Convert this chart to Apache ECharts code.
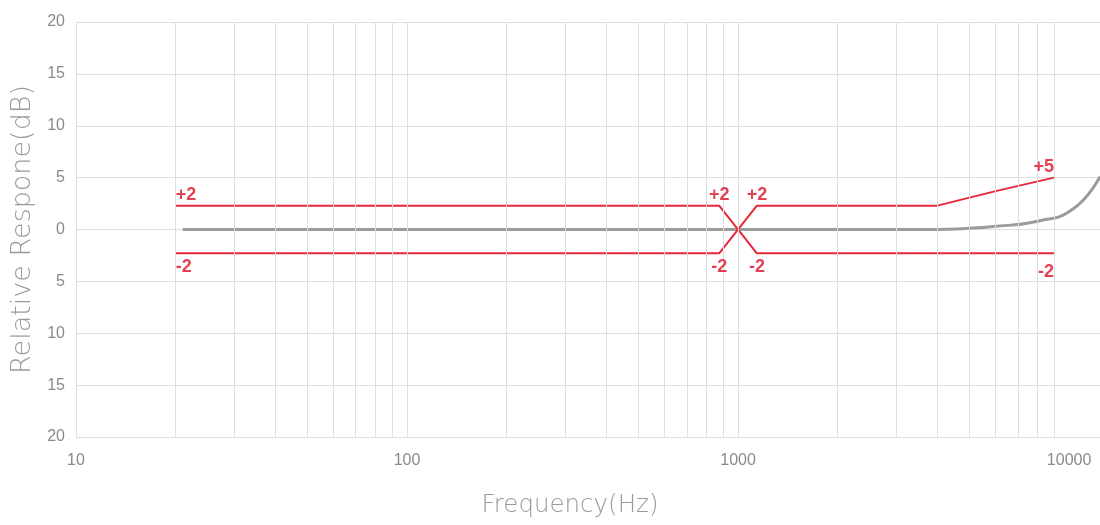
<!DOCTYPE html>
<html><head><meta charset="utf-8">
<script src="https://cdn.jsdelivr.net/npm/echarts@6/dist/echarts.min.js"></script>
<style>html,body{margin:0;padding:0;background:#fff}#c{width:1100px;height:525px}</style>
</head><body><div id="c"></div>
<script>
// ---- data ----
const xTickLabels = [10, 100, 1000, 10000];
const gridFreqs = [10, 20, 30, 40, 50, 60, 70, 80, 90,
                   100, 200, 300, 400, 500, 600, 700, 800, 900,
                   1000, 2000, 3000, 4000, 5000, 6000, 7000, 8000, 9000];
const responseFreq = [21, 100, 1000, 4000, 5900, 8050, 10300, 12400];
const responseDb   = [0, 0, 0, 0, 0.3, 0.8, 2.0, 5.1];
const tolAFreq = [20, 877, 1140, 9000];
const tolADb   = [2.3, 2.3, -2.3, -2.3];
const tolBFreq = [20, 877, 1140, 4000, 6000, 9000];
const tolBDb   = [-2.3, -2.3, 2.3, 2.3, 3.7, 5];
const noteFreq = [20, 877, 1140, 9000, 20, 877, 1140, 9000];
const noteDb   = [2.3, 2.3, 2.3, 5, -2.3, -2.3, -2.3, -2.3];
const noteText = ['+2', '+2', '+2', '+5', '-2', '-2', '-2', '-2'];

const zip = (a, b) => a.map((v, i) => [v, b[i]]);
const RED = '#e6283a';
const LABEL_RED = '#dc1028';
const NARROW = "'Liberation Sans Narrow', 'Liberation Sans', Arial, sans-serif";

const notes = noteFreq.map((f, i) => {
  const above = noteDb[i] > 0;
  const first = i === 0 || i === 4;
  const last = i === 3 || i === 7;
  return {
    value: [f, noteDb[i]],
    name: noteText[i],
    label: {
      show: true,
      position: above ? 'top' : 'bottom',
      align: first ? 'left' : (last ? 'right' : 'center'),
      distance: above ? 1 : (last ? 9 : 4)
    }
  };
});

const chart = echarts.init(document.getElementById('c'), null, {renderer: 'canvas'});
chart.setOption({
  animation: false,
  backgroundColor: '#ffffff',
  grid: {left: 76, right: 0, top: 22, bottom: 88, containLabel: false, outerBoundsMode: 'none'},
  xAxis: {
    type: 'log', logBase: 10, min: 10, max: 12400,
    name: 'Frequency(Hz)', nameLocation: 'middle', nameGap: 56,
    nameTextStyle: {color: '#9a9a9a', fontSize: 24.5, fontFamily: "'DejaVu Sans', sans-serif", fontWeight: 300, padding: [0, 36, 0, 0]},
    axisLine: {show: false}, axisTick: {show: false},
    splitLine: {show: false}, minorSplitLine: {show: false},
    axisLabel: {
      color: '#8a8a8a', fontSize: 16, fontFamily: NARROW, margin: 16,
      showMaxLabel: false,
      formatter: v => xTickLabels.some(t => Math.abs(t - v) / t < 1e-6) ? String(Math.round(v)) : ''
    }
  },
  yAxis: {
    type: 'value', min: -20, max: 20, interval: 5,
    name: 'Relative Respone(dB)', nameLocation: 'middle', nameGap: 40,
    nameTextStyle: {color: '#9a9a9a', fontSize: 27, fontFamily: "'DejaVu Sans', sans-serif", fontWeight: 300},
    axisLine: {show: false}, axisTick: {show: false},
    splitLine: {show: true, lineStyle: {color: '#dedede', width: 1}},
    axisLabel: {color: '#8a8a8a', fontSize: 16, fontFamily: NARROW, margin: 11, formatter: v => String(Math.abs(v))}
  },
  series: [
    {
      type: 'line', data: [], z: 1, silent: true,
      markLine: {
        silent: true, symbol: ['none', 'none'], label: {show: false},
        lineStyle: {color: '#dedede', width: 1, type: 'solid'},
        emphasis: {disabled: true},
        data: gridFreqs.map(f => ({xAxis: f}))
      }
    },
    {
      type: 'line', data: zip(responseFreq, responseDb), z: 3,
      showSymbol: false, smooth: 0.5,
      lineStyle: {color: '#9b9b9b', width: 3}
    },
    {
      type: 'line', data: zip(tolAFreq, tolADb), z: 4,
      showSymbol: false, lineStyle: {color: RED, width: 2}
    },
    {
      type: 'line', data: zip(tolBFreq, tolBDb), z: 4,
      showSymbol: false, lineStyle: {color: RED, width: 2}
    },
    {
      type: 'scatter', data: notes, z: 5, symbolSize: 2,
      itemStyle: {color: 'rgba(255,255,255,0)'}, silent: true,
      label: {show: true, formatter: '{b}', color: LABEL_RED, fontSize: 18, fontWeight: 'bold', fontFamily: NARROW}
    }
  ]
});
</script></body></html>
